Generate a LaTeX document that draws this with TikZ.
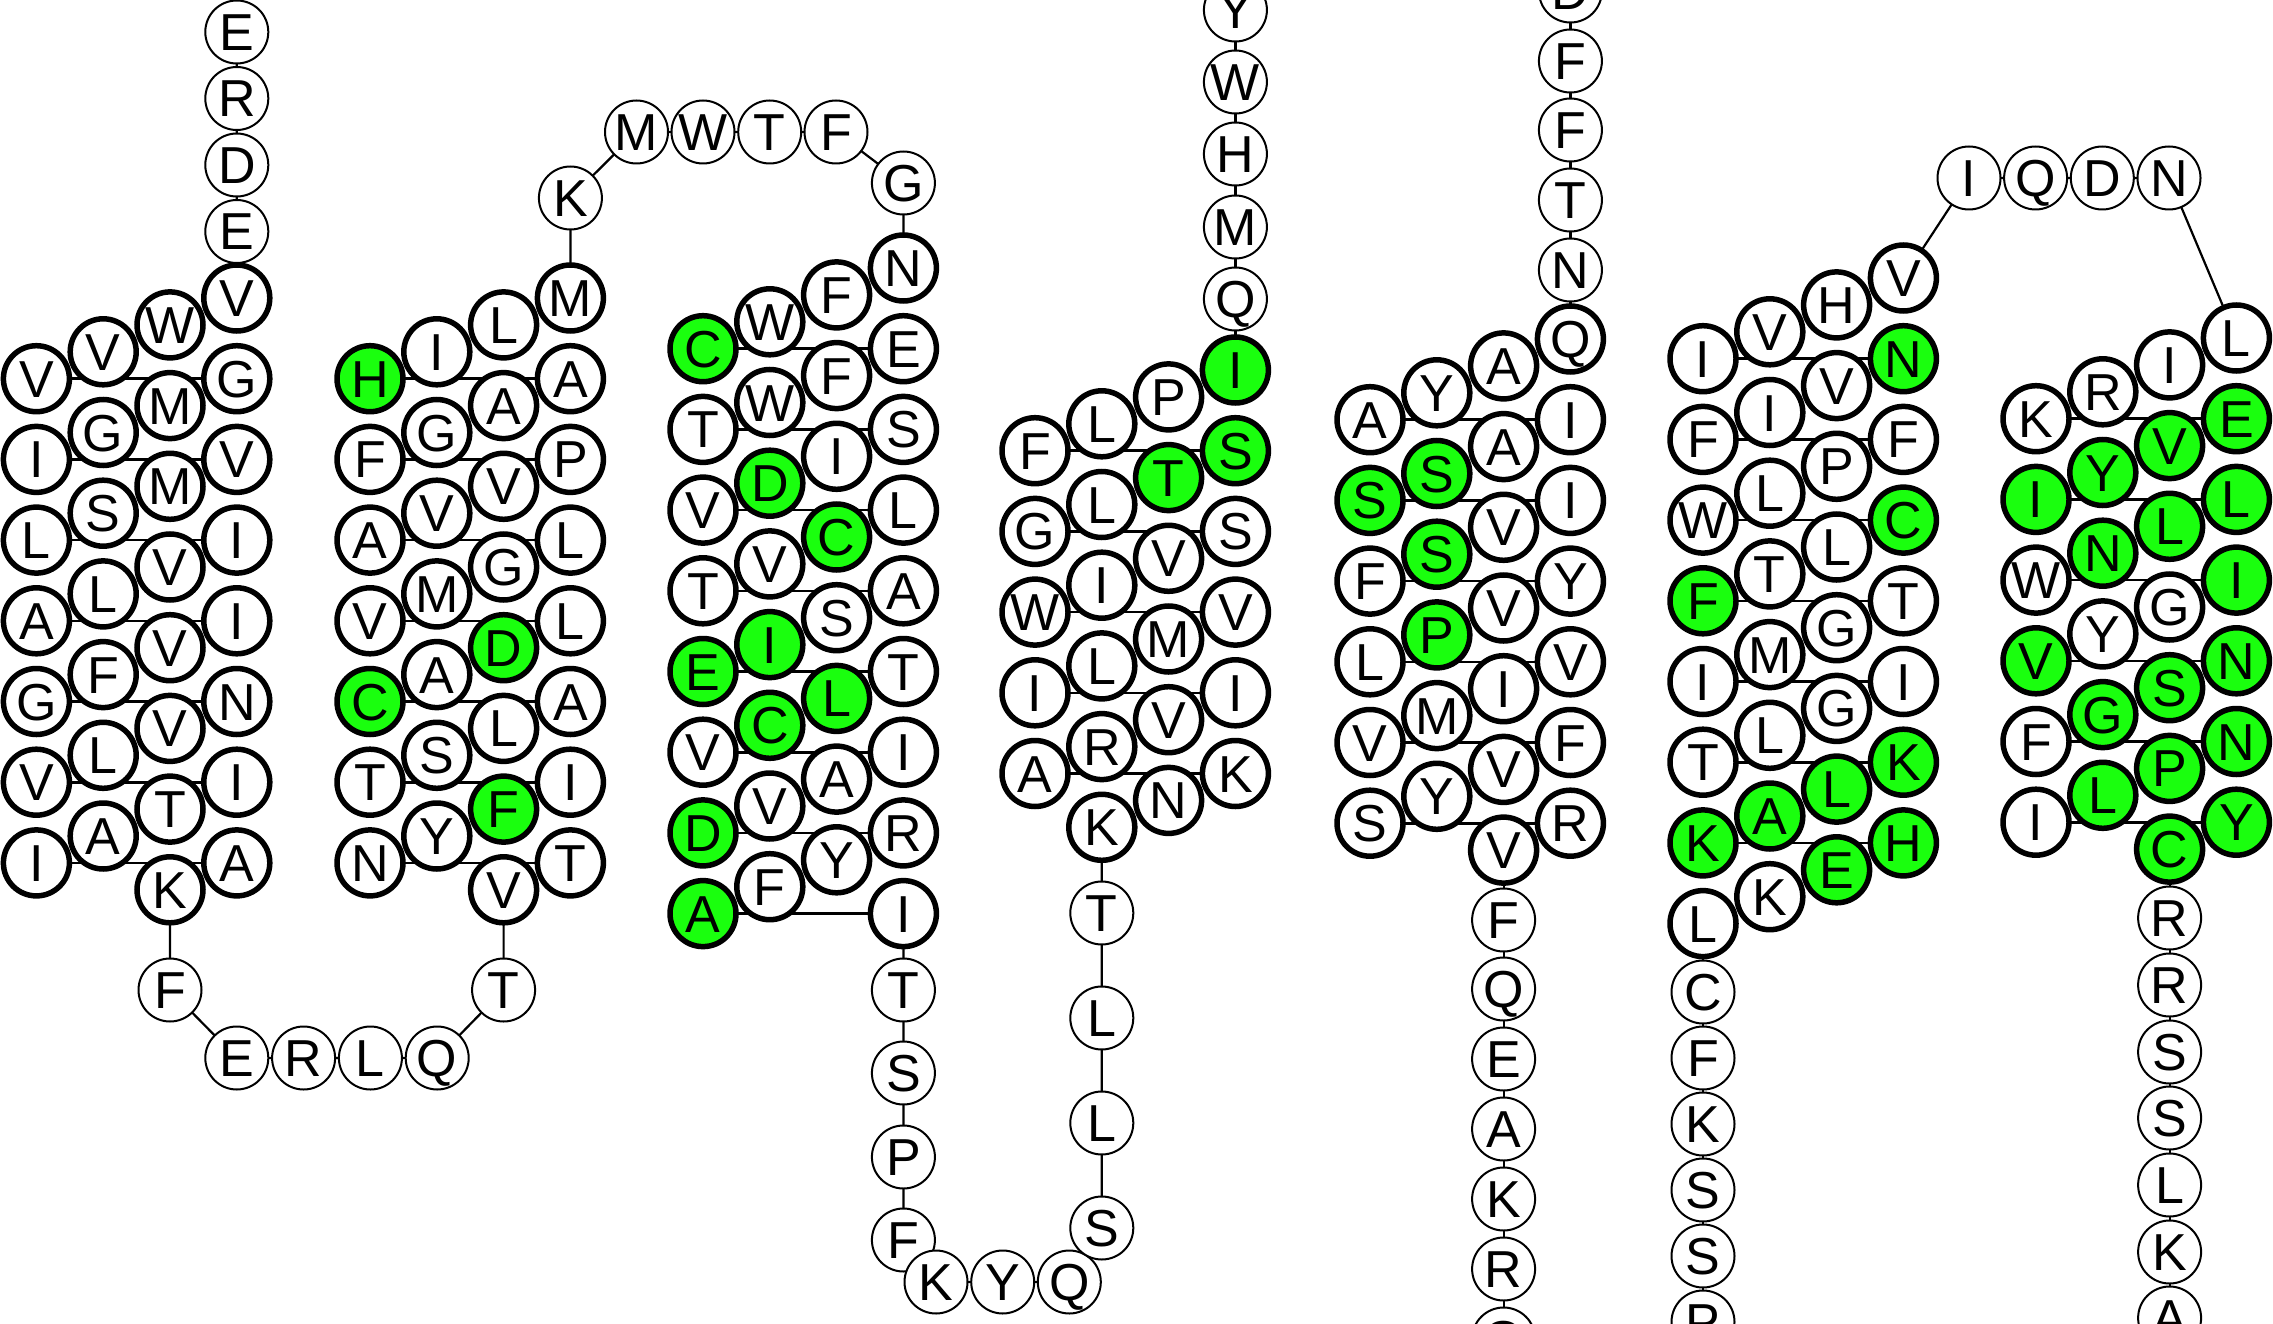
\documentclass[tikz,border=0pt]{standalone}
\usepackage{fontspec}
\setmainfont{Liberation Sans}
\definecolor{g}{RGB}{26,255,14}
\colorlet{w}{white}
\pgfdeclarelayer{bg}
\pgfdeclarelayer{paper}
\pgfsetlayers{paper,bg,main}
\tikzset{
  res/.style={circle, draw=black, inner sep=0pt, font=\fontsize{52}{52}\selectfont, text height=37pt, text depth=0pt},
  tm/.style={res, line width=5.5pt, minimum size=66pt},
  lp/.style={res, line width=2pt, minimum size=63pt, fill=white},
  link/.style={line width=2.2pt},
  hline/.style={line width=2.6pt},
}
\newcommand\hcol[5]{%
  \foreach \ltr/\fcl [count=\ri from 0] in {#5}{%
    \node[tm, fill=\fcl] (h#1c#2r\ri) at ({#3}, {#4+80.7*\ri}) {\ltr};
  }}
\newcommand\helix[7]{%
  \hcol{#1}{1}{#2}{#3+80.7}{#4}
  \hcol{#1}{2}{#2+66.8}{#3+53.8}{#5}
  \hcol{#1}{3}{#2+133.6}{#3+26.9}{#6}
  \hcol{#1}{4}{#2+200.4}{#3}{#7}
}
\newcommand\hlines[2]{%
  \begin{pgfonlayer}{bg}
  \foreach \ri in {0,...,#2}{%
    \pgfmathtruncatemacro\rn{\ri+1}
    \draw[hline] (h#1c1r\ri.center) -- (h#1c4r\rn.center);
  }
  \end{pgfonlayer}}
\begin{document}
\begin{tikzpicture}[x=1pt,y=-1pt]
\begin{pgfonlayer}{paper}
\fill[white] (0,0) rectangle (2273,1324);
\end{pgfonlayer}
\useasboundingbox (0,0) rectangle (2273,1324);
\clip (0,0) rectangle (2273,1324);

% helices
\helix{1}{36.4}{298}{V/w,I/w,L/w,A/w,G/w,V/w,I/w}{V/w,G/w,S/w,L/w,F/w,L/w,A/w}{W/w,M/w,M/w,V/w,V/w,V/w,T/w,K/w}{V/w,G/w,V/w,I/w,I/w,N/w,I/w,A/w}
\hlines{1}{6}
\helix{2}{370}{298}{H/g,F/w,A/w,V/w,C/g,T/w,N/w}{I/w,G/w,V/w,M/w,A/w,S/w,Y/w}{L/w,A/w,V/w,G/w,D/g,L/w,F/g,V/w}{M/w,A/w,P/w,L/w,L/w,A/w,I/w,T/w}
\hlines{2}{6}
\helix{3}{703}{268}{C/g,T/w,V/w,T/w,E/g,V/w,D/g,A/g}{W/w,W/w,D/g,V/w,I/g,C/g,V/w,F/w}{F/w,F/w,I/w,C/g,S/w,L/g,A/w,Y/w}{N/w,E/w,S/w,L/w,A/w,T/w,I/w,R/w,I/w}
\hlines{3}{7}
\helix{4}{1035}{370}{F/w,G/w,W/w,I/w,A/w}{L/w,L/w,I/w,L/w,R/w,K/w}{P/w,T/g,V/w,M/w,V/w,N/w}{I/g,S/g,S/w,V/w,I/w,K/w}
\hlines{4}{4}
\helix{5}{1370}{339}{A/w,S/g,F/w,L/w,V/w,S/w}{Y/w,S/g,S/g,P/g,M/w,Y/w}{A/w,A/w,V/w,V/w,I/w,V/w,V/w}{Q/w,I/w,I/w,Y/w,V/w,F/w,R/w}
\hlines{5}{5}
\helix{6}{1703}{278}{I/w,F/w,W/w,F/g,I/w,T/w,K/g,L/w}{V/w,I/w,L/w,T/w,M/w,L/w,A/g,K/w}{H/w,V/w,P/w,L/w,G/w,G/w,L/g,E/g}{V/w,N/g,F/w,C/g,T/w,I/w,K/g,H/g}
\hlines{6}{6}
\helix{7}{2036}{338}{K/w,I/g,W/w,V/g,F/w,I/w}{R/w,Y/g,N/g,Y/w,G/g,L/g}{I/w,V/g,L/g,G/w,S/g,P/g,C/g}{L/w,E/g,L/g,I/g,N/g,N/g,Y/g}
\hlines{7}{5}

% N-terminus
\node[lp] (n1) at (236.8,32) {E};
\node[lp] (n2) at (236.8,98.5) {R};
\node[lp] (n3) at (236.8,165) {D};
\node[lp] (n4) at (236.8,231.5) {E};
% loop 1-2
\node[lp] (a1) at (170,990) {F};
\node[lp] (a2) at (236.8,1058) {E};
\node[lp] (a3) at (303.6,1058) {R};
\node[lp] (a4) at (370.4,1058) {L};
\node[lp] (a5) at (437.2,1058) {Q};
\node[lp] (a6) at (503.6,990) {T};
% loop 2-3
\node[lp] (b1) at (570.4,198) {K};
\node[lp] (b2) at (636.5,132) {M};
\node[lp] (b3) at (703,132) {W};
\node[lp] (b4) at (769.7,132) {T};
\node[lp] (b5) at (836,132) {F};
\node[lp] (b6) at (903.4,183) {G};
% loop 3-4
\node[lp] (c1) at (903.4,990) {T};
\node[lp] (c2) at (903.4,1073) {S};
\node[lp] (c3) at (903.4,1157) {P};
\node[lp] (c4) at (903.4,1240) {F};
\node[lp] (c5) at (936,1282) {K};
\node[lp] (c6) at (1002.7,1282) {Y};
\node[lp] (c7) at (1069.3,1282) {Q};
\node[lp] (c8) at (1101.8,1228) {S};
\node[lp] (c9) at (1101.8,1123) {L};
\node[lp] (c10) at (1101.8,1018) {L};
\node[lp] (c11) at (1101.8,913) {T};
% loop 4-5
\node[lp] (d1) at (1235.4,299) {Q};
\node[lp] (d2) at (1235.4,227) {M};
\node[lp] (d3) at (1235.4,154) {H};
\node[lp] (d4) at (1235.4,82) {W};
\node[lp] (d5) at (1235.4,10) {Y};
\node[lp] (e1) at (1570.4,-9) {D};
\node[lp] (e2) at (1570.4,61) {F};
\node[lp] (e3) at (1570.4,130) {F};
\node[lp] (e4) at (1570.4,200) {T};
\node[lp] (e5) at (1570.4,270) {N};
% loop 5-6
\node[lp] (f1) at (1503.6,920) {F};
\node[lp] (f2) at (1503.6,989) {Q};
\node[lp] (f3) at (1503.6,1059) {E};
\node[lp] (f4) at (1503.6,1129) {A};
\node[lp] (f5) at (1503.6,1199) {K};
\node[lp] (f6) at (1503.6,1269) {R};
\node[lp] (f7) at (1503.6,1339) {Q};
% loop 6-7
\node[lp] (g1) at (1969,178) {I};
\node[lp] (g2) at (2035.6,178) {Q};
\node[lp] (g3) at (2102.3,178) {D};
\node[lp] (g4) at (2169,178) {N};
\node[lp] (i1) at (1703,992) {C};
\node[lp] (i2) at (1703,1058) {F};
\node[lp] (i3) at (1703,1124) {K};
\node[lp] (i4) at (1703,1190) {S};
\node[lp] (i5) at (1703,1256) {S};
\node[lp] (i6) at (1703,1322) {P};
% C-terminus
\node[lp] (j1) at (2169.6,918) {R};
\node[lp] (j2) at (2169.6,985) {R};
\node[lp] (j3) at (2169.6,1052) {S};
\node[lp] (j4) at (2169.6,1118) {S};
\node[lp] (j5) at (2169.6,1185) {L};
\node[lp] (j6) at (2169.6,1252) {K};
\node[lp] (j7) at (2169.6,1318) {A};

\begin{pgfonlayer}{bg}
\draw[link] (n1.center) -- (n2.center) -- (n3.center) -- (n4.center) -- (h1c4r0.center);
\draw[link] (h1c3r7.center) -- (a1.center) -- (a2.center) -- (a3.center) -- (a4.center) -- (a5.center) -- (a6.center) -- (h2c3r7.center);
\draw[link] (h2c4r0.center) -- (b1.center) -- (b2.center) -- (b3.center) -- (b4.center) -- (b5.center) -- (b6.center) -- (h3c4r0.center);
\draw[link] (h3c4r8.center) -- (c1.center) -- (c2.center) -- (c3.center) -- (c4.center) -- (c5.center) -- (c6.center) -- (c7.center) -- (c8.center) -- (c9.center) -- (c10.center) -- (c11.center) -- (h4c2r5.center);
\draw[link] (h4c4r0.center) -- (d1.center) -- (d2.center) -- (d3.center) -- (d4.center) -- (d5.center);
\draw[link] (e1.center) -- (e2.center) -- (e3.center) -- (e4.center) -- (e5.center) -- (h5c4r0.center);
\draw[link] (h5c3r6.center) -- (f1.center) -- (f2.center) -- (f3.center) -- (f4.center) -- (f5.center) -- (f6.center) -- (f7.center);
\draw[link] (h6c4r0.center) -- (g1.center) -- (g2.center) -- (g3.center) -- (g4.center) -- (h7c4r0.center);
\draw[link] (h6c1r7.center) -- (i1.center) -- (i2.center) -- (i3.center) -- (i4.center) -- (i5.center) -- (i6.center);
\draw[link] (h7c3r6.center) -- (j1.center) -- (j2.center) -- (j3.center) -- (j4.center) -- (j5.center) -- (j6.center) -- (j7.center);
\end{pgfonlayer}
\end{tikzpicture}
\end{document}
